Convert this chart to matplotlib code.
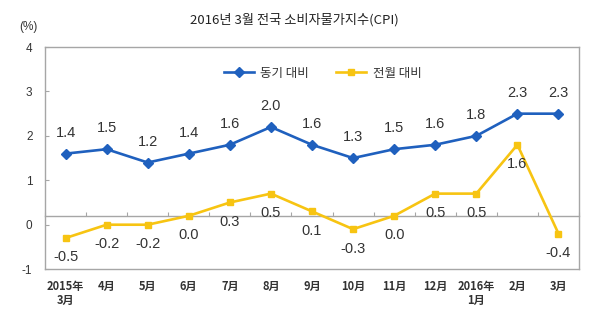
import numpy as np
import matplotlib
matplotlib.use("Agg")
import matplotlib.pyplot as plt

plt.rcParams['font.family'] = ['Liberation Sans', 'Noto Sans CJK KR', 'DejaVu Sans']

months = ['2015年\n3月', '4月', '5月', '6月', '7月', '8月', '9月', '10月',
          '11月', '12月', '2016年\n1月', '2月', '3月']
yoy = [1.4, 1.5, 1.2, 1.4, 1.6, 2.0, 1.6, 1.3, 1.5, 1.6, 1.8, 2.3, 2.3]
mom = [-0.5, -0.2, -0.2, 0.0, 0.3, 0.5, 0.1, -0.3, 0.0, 0.5, 0.5, 1.6, -0.4]
y_tick_labels = ['-1', '0', '1', '2', '3', '4']

series_names = ['동기 대비', '전월 대비']
title = '2016년 3월 전국 소비자물가지수(CPI)'

BLUE = '#1F60BE'
YELLOW = '#F7C412'
GRAY = '#A6A6A6'
TEXT = '#333333'
TICK_SHIFT = -0.2

fig = plt.figure(figsize=(6.0, 3.29), dpi=100)
ax = fig.add_axes([0.075, 0.182, 0.89, 0.675])

x = np.arange(len(months))
ax.plot(x, yoy, color=BLUE, lw=1.9, marker='D', ms=4.8, label=series_names[0], zorder=3)
ax.plot(x, mom, color=YELLOW, lw=1.9, marker='s', ms=4.6, label=series_names[1], zorder=3)

for xi, v in zip(x, yoy):
    ax.annotate(f'{v:.1f}', (xi, v), xytext=(0, 15), textcoords='offset points',
                ha='center', va='center', fontsize=10.5, color=TEXT)
for xi, v in zip(x, mom):
    ax.annotate(f'{v:.1f}', (xi, v), xytext=(0, -14), textcoords='offset points',
                ha='center', va='center', fontsize=10.5, color=TEXT)

ymin, ymax = -1 + TICK_SHIFT, 4 + TICK_SHIFT
ax.set_ylim(ymin, ymax)
ax.set_xlim(-0.5, len(months) - 0.5)

ax.set_yticks(np.arange(-1, 5) + TICK_SHIFT)
ax.set_yticklabels(y_tick_labels)
ax.tick_params(axis='y', direction='in', length=3, color=GRAY, pad=9,
               labelsize=8.5, labelcolor=TEXT)

ax.set_xticks(x)
ax.set_xticklabels(months, fontsize=8, fontweight='bold', color=TEXT,
                   family=['Noto Sans CJK KR'], linespacing=1.1)
ax.tick_params(axis='x', length=0, pad=8)

for s in ax.spines.values():
    s.set_color(GRAY)
    s.set_linewidth(1.0)

# zero line with category boundary ticks
zero_frac = (0 - ymin) / (ymax - ymin)
sec = ax.secondary_xaxis(zero_frac)
sec.set_xticks(np.arange(len(months) + 1) - 0.5)
sec.tick_params(direction='in', length=3, color=GRAY, labelbottom=False, labeltop=False)
for s in sec.spines.values():
    s.set_color(GRAY)
    s.set_linewidth(1.0)

leg = ax.legend(loc='center', bbox_to_anchor=(0.52, 0.883), ncol=2, frameon=False,
                prop={'family': 'Noto Sans CJK KR', 'size': 9},
                handlelength=2.4, handletextpad=0.5, columnspacing=2.2)
for t in leg.get_texts():
    t.set_color(TEXT)

fig.text(0.49, 0.939, title, ha='center', va='center', fontsize=9.5,
         family=['Noto Sans CJK KR'], color='#222222')
fig.text(28 / 600, 1 - 27 / 329, '(%)', ha='center', va='center', fontsize=8.5, color=TEXT)

fig.savefig('out.png', dpi=100)
